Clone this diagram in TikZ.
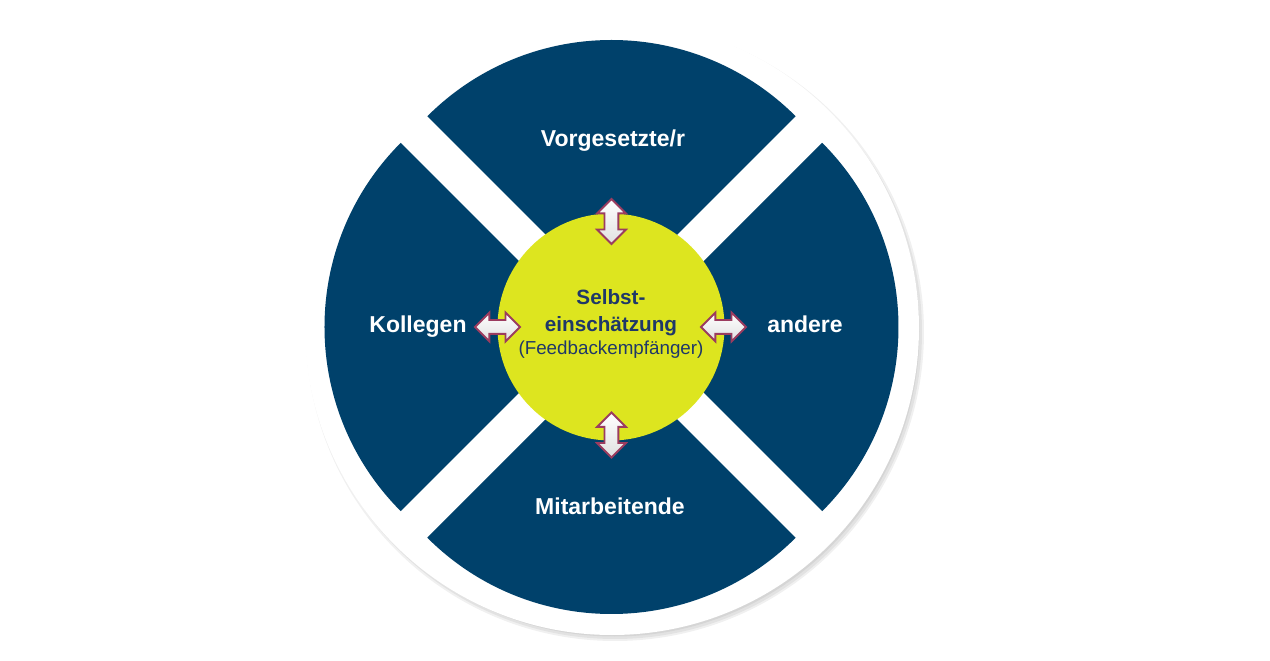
\documentclass[tikz,border=0pt]{standalone}
\usepackage{fontspec}
\setmainfont{Liberation Sans}
\usetikzlibrary{shapes.arrows}
\definecolor{wheelblue}{RGB}{0,65,107}
\definecolor{selfyellow}{RGB}{221,229,31}
\definecolor{arrowred}{RGB}{155,60,95}
\definecolor{selftext}{RGB}{31,56,104}
\begin{document}
\begin{tikzpicture}[x=1pt, y=1pt,
    wedge/.style={fill=wheelblue},
    softshade/.style={fill=black, opacity=0.06},
    label/.style={anchor=base, text=white, font=\fontsize{23}{27}\selectfont\bfseries},
    selfline/.style={anchor=base, text=selftext, font=\fontsize{20.7}{25}\selectfont\bfseries},
    twoway/.style={double arrow, draw=arrowred, line width=1.8pt, top color=white, bottom color=black!12,
        minimum height=45pt, inner xsep=0pt, inner ysep=6pt, double arrow head extend=7.5pt}]
        \useasboundingbox (-611.5,-334) rectangle (658.5,327);
        % soft shadow behind the white disk
        \fill[softshade] (3.5,-5) circle[radius=309];
        \fill[softshade] (3.5,-5) circle[radius=307];
        \fill[softshade] (3,-4.5) circle[radius=305];
        \fill[softshade] (2.5,-4) circle[radius=303];
        \fill[white] (0.5,-1) circle[radius=307];

        % exploded quarters
        \fill[wedge] (0,26.5) -- ++(45:260.5) arc[start angle=45, end angle=135, radius=260.5] -- cycle;
        \fill[wedge] (-26.5,0) -- ++(135:260.5) arc[start angle=135, end angle=225, radius=260.5] -- cycle;
        \fill[wedge] (0,-26.5) -- ++(225:260.5) arc[start angle=225, end angle=315, radius=260.5] -- cycle;
        \fill[wedge] (26.5,0) -- ++(315:260.5) arc[start angle=315, end angle=405, radius=260.5] -- cycle;

        \node[label] (vorg) at (1.5,180) {Vorgesetzte/r};
        \node[label] (koll) at (-193.5,-6) {Kollegen};
        \node[label] (andere) at (193.5,-6) {andere};
        \node[label] (mitarb) at (-1.5,-188) {Mitarbeitende};

        % self assessment in the middle
        \node[circle, fill=selfyellow, minimum size=227pt, inner sep=0pt] (self) at (-0.5,0) {};
        \node[selfline] (selbst) at (-0.5,22) {Selbst-};
        \node[selfline] (einsch) at (-0.5,-5) {einschätzung};
        \node[anchor=base, text=selftext, font=\fontsize{18.8}{22}\selectfont] (empf) at (-0.5,-28) {(Feedbackempfänger)};

        \node[twoway, rotate=90] (upar) at (0,105.5) {};
        \node[twoway, rotate=90] (downar) at (0,-108) {};
        \node[twoway] (leftar) at (-114,0) {};
        \node[twoway] (rightar) at (112,0) {};
    \end{tikzpicture}
\end{document}
